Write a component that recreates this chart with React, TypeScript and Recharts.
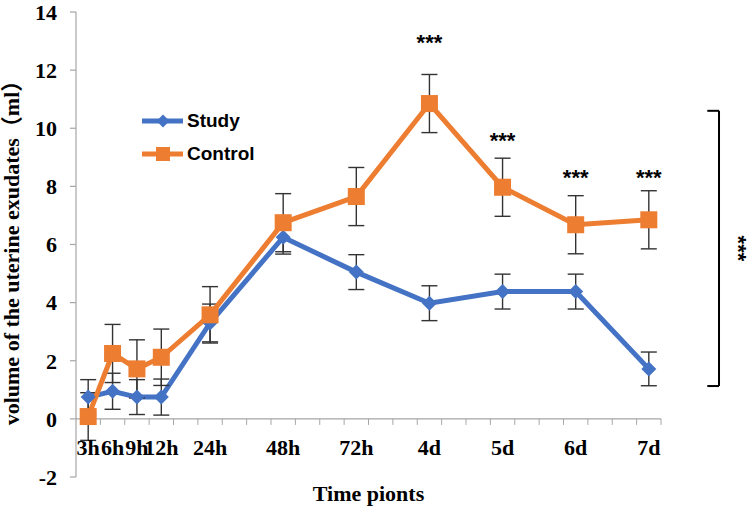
import {
  LineChart,
  Line,
  XAxis,
  YAxis,
  ErrorBar,
  ReferenceLine,
  ReferenceDot,
  Legend
} from "recharts";

// time points (position = slot on the Excel-style date axis)
const TIME_LABELS = ["3h", "6h", "9h", "12h", "24h", "48h", "72h", "4d", "5d", "6d", "7d"];
const TIME_SLOT = [0, 1, 2, 3, 5, 8, 11, 14, 17, 20, 23];

const STUDY = [0.75, 0.95, 0.75, 0.75, 3.3, 6.25, 5.05, 3.98, 4.38, 4.38, 1.72];
const STUDY_ERR = [0.6, 0.62, 0.6, 0.62, 0.65, 0.58, 0.6, 0.6, 0.6, 0.6, 0.58];
const CONTROL = [0.08, 2.25, 1.72, 2.12, 3.58, 6.75, 7.65, 10.85, 7.97, 6.68, 6.85];
const CONTROL_ERR = [0.82, 1.0, 1.0, 0.97, 0.97, 1.0, 1.0, 1.0, 1.0, 1.0, 1.0];

const Y_TICKS = [-2, 0, 2, 4, 6, 8, 10, 12, 14];

// significance marks: [time label, height of the "***" in data units]
const SIG_MARKS: [string, number][] = [
  ["4d", 12.95],
  ["5d", 9.58],
  ["6d", 8.3],
  ["7d", 8.3]
];

// bracket on the right (data units)
const BRACKET = { xIn: 25.4, xOut: 25.88, yTop: 10.6, yBottom: 1.13, labelX: 26.7 };

const data = TIME_LABELS.map((label, i) => ({
  label,
  slot: TIME_SLOT[i],
  study: STUDY[i],
  studyErr: STUDY_ERR[i],
  control: CONTROL[i],
  controlErr: CONTROL_ERR[i]
}));

const BLUE = "#4472C4";
const ORANGE = "#ED7D31";
const AXIS_GRAY = "#A6A6A6";
const SERIF = "'Liberation Serif', 'Times New Roman', 'Noto Sans CJK SC', serif";
const SANS = "'Liberation Sans', Arial, sans-serif";

const W = 750;
const H = 510;
const MARGIN = { top: 12, right: 89, bottom: 0, left: 0 };
const Y_AXIS_W = 76;
const X_AXIS_H = 33;
const Y_MIN = -2;
const Y_MAX = 14;
const PLOT_H = H - MARGIN.top - MARGIN.bottom - X_AXIS_H;
const ZERO_SHIFT = (PLOT_H * (0 - Y_MIN)) / (Y_MAX - Y_MIN);

const X_MIN = TIME_SLOT[0] - 0.5;
const X_MAX = TIME_SLOT[TIME_SLOT.length - 1] + 0.5;
const BOUNDARIES: number[] = [];
for (let b = X_MIN; b <= X_MAX; b += 1) BOUNDARIES.push(b);
const X_TICKS = [...BOUNDARIES, ...TIME_SLOT].sort((a, b) => a - b);

function slotOf(label: string) {
  return TIME_SLOT[TIME_LABELS.indexOf(label)];
}

function XTick(props: any) {
  const { x, y, payload } = props;
  const zeroY = y - ZERO_SHIFT;
  const v = payload.value;
  const idx = TIME_SLOT.indexOf(v);
  if (idx < 0) {
    if (v === X_MIN) return <g />;
    return <line x1={x} x2={x} y1={zeroY} y2={zeroY + 6} stroke={AXIS_GRAY} strokeWidth={1} />;
  }
  return (
    <text
      x={x}
      y={zeroY + 36}
      textAnchor="middle"
      fontFamily={SERIF}
      fontWeight="bold"
      fontSize={22}
      fill="#000"
    >
      {TIME_LABELS[idx]}
    </text>
  );
}

function YLabel(props: any) {
  const vb = props.viewBox;
  const cx = vb.x + 19;
  const cy = vb.y + vb.height / 2 + 3;
  return (
    <text
      x={cx}
      y={cy}
      transform={`rotate(-90, ${cx}, ${cy})`}
      textAnchor="middle"
      fontFamily={SERIF}
      fontWeight="bold"
      fontSize={22}
      fill="#000"
    >
      volume of the uterine exudates（ml）
    </text>
  );
}

function Diamond({ cx, cy, r, color }: any) {
  return (
    <path
      d={`M${cx},${cy - r} L${cx + r},${cy} L${cx},${cy + r} L${cx - r},${cy} Z`}
      fill={color}
    />
  );
}

function Square({ cx, cy, r, color }: any) {
  return <rect x={cx - r} y={cy - r} width={2 * r} height={2 * r} fill={color} />;
}

const SERIES = [
  { name: "Study", color: BLUE, Marker: Diamond },
  { name: "Control", color: ORANGE, Marker: Square }
];

function LegendBox() {
  return (
    <div>
      {SERIES.map((s) => (
        <div key={s.name} style={{ display: "flex", alignItems: "center", height: 33 }}>
          <svg width={42} height={18} style={{ display: "block" }}>
            <line x1={0} x2={41} y1={9} y2={9} stroke={s.color} strokeWidth={5} />
            <s.Marker cx={21} cy={9} r={s.name === "Study" ? 6.5 : 7} color={s.color} />
          </svg>
          <span
            style={{
              marginLeft: 3,
              fontFamily: SANS,
              fontWeight: "bold",
              fontSize: 19,
              color: "#000",
              lineHeight: "20px"
            }}
          >
            {s.name}
          </span>
        </div>
      ))}
    </div>
  );
}

const sigLabel = {
  value: "***",
  position: "center" as const,
  fill: "#000",
  fontSize: 22,
  fontWeight: "bold",
  fontFamily: SANS
};

function App() {
  return (
    <div style={{ position: "absolute", left: 0, top: 0, width: W, height: H, background: "#fff" }}>
      <LineChart width={W} height={H} data={data} margin={MARGIN}>
        <XAxis
          dataKey="slot"
          type="number"
          domain={[X_MIN, X_MAX]}
          ticks={X_TICKS}
          interval={0}
          height={X_AXIS_H}
          axisLine={false}
          tickLine={false}
          tickSize={0}
          tickMargin={0}
          tick={<XTick />}
          label={{
            value: "Time pionts",
            position: "insideBottom",
            offset: 9,
            fill: "#000",
            fontFamily: SERIF,
            fontWeight: "bold",
            fontSize: 22
          }}
        />
        <YAxis
          type="number"
          domain={[Y_MIN, Y_MAX]}
          ticks={Y_TICKS}
          interval={0}
          width={Y_AXIS_W}
          axisLine={{ stroke: AXIS_GRAY, strokeWidth: 1.2 }}
          tickLine={{ stroke: AXIS_GRAY, strokeWidth: 1.2 }}
          tickSize={6}
          tickMargin={13}
          tick={{ fill: "#000", fontFamily: SERIF, fontWeight: "bold", fontSize: 22 }}
          label={<YLabel />}
        />
        <ReferenceLine y={0} stroke={AXIS_GRAY} strokeWidth={1.2} />

        <Legend
          layout="horizontal"
          verticalAlign="middle"
          align="center"
          content={<LegendBox />}
          wrapperStyle={{ top: 104, left: 142, width: "auto" }}
        />

        <Line
          name="Study"
          dataKey="study"
          stroke={BLUE}
          strokeWidth={5}
          isAnimationActive={false}
          activeDot={false}
          dot={(p: any) => <Diamond key={`s${p.index}`} cx={p.cx} cy={p.cy} r={7.5} color={BLUE} />}
        >
          <ErrorBar dataKey="studyErr" direction="y" width={8} stroke="#333" strokeWidth={1.4} isAnimationActive={false} />
        </Line>
        <Line
          name="Control"
          dataKey="control"
          stroke={ORANGE}
          strokeWidth={5}
          isAnimationActive={false}
          activeDot={false}
          dot={(p: any) => <Square key={`c${p.index}`} cx={p.cx} cy={p.cy} r={8.5} color={ORANGE} />}
        >
          <ErrorBar dataKey="controlErr" direction="y" width={8} stroke="#333" strokeWidth={1.4} isAnimationActive={false} />
        </Line>

        {SIG_MARKS.map(([t, y]) => (
          <ReferenceDot
            key={t}
            x={slotOf(t)}
            y={y}
            r={1}
            fill="none"
            stroke="none"
            ifOverflow="visible"
            label={sigLabel}
          />
        ))}

        <ReferenceLine
          segment={[{ x: BRACKET.xIn, y: BRACKET.yTop }, { x: BRACKET.xOut, y: BRACKET.yTop }]}
          stroke="#000"
          strokeWidth={2}
          ifOverflow="visible"
        />
        <ReferenceLine
          segment={[{ x: BRACKET.xOut, y: BRACKET.yTop }, { x: BRACKET.xOut, y: BRACKET.yBottom }]}
          stroke="#000"
          strokeWidth={2}
          ifOverflow="visible"
        />
        <ReferenceLine
          segment={[{ x: BRACKET.xIn, y: BRACKET.yBottom }, { x: BRACKET.xOut, y: BRACKET.yBottom }]}
          stroke="#000"
          strokeWidth={2}
          ifOverflow="visible"
        />
        <ReferenceDot
          x={BRACKET.labelX}
          y={(BRACKET.yTop + BRACKET.yBottom) / 2}
          r={1}
          fill="none"
          stroke="none"
          ifOverflow="visible"
          label={{ ...sigLabel, angle: 90 }}
        />
      </LineChart>
    </div>
  );
}

export default App;
